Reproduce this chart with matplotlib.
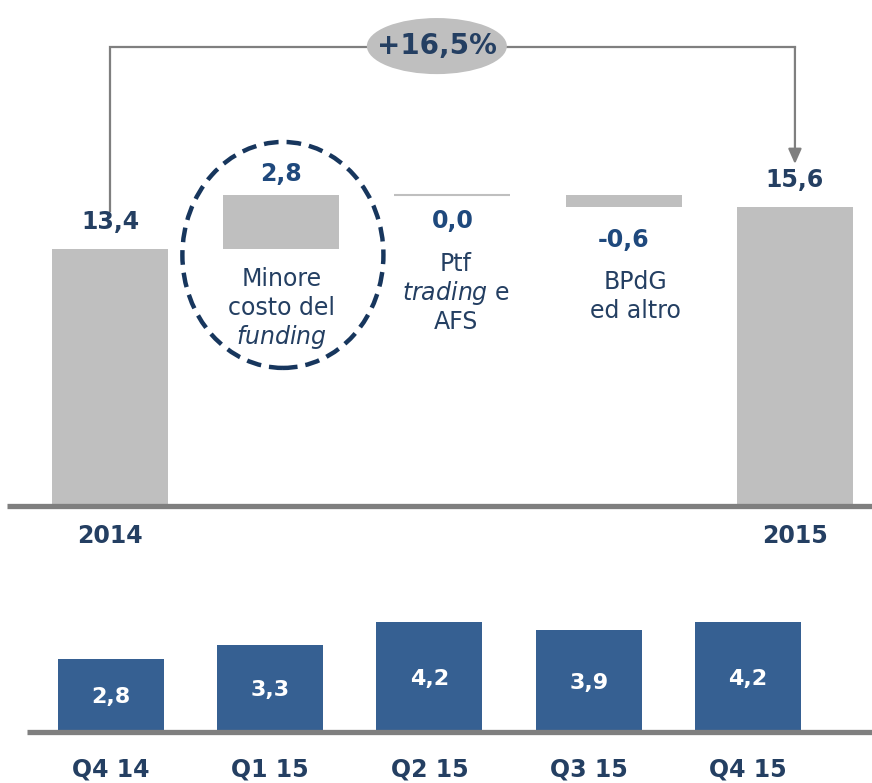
import matplotlib.pyplot as plt
from matplotlib.patches import Ellipse

plt.rcParams['font.family'] = ['DejaVu Sans']
plt.rcParams['mathtext.fontset'] = 'custom'
plt.rcParams['mathtext.rm'] = 'DejaVu Sans'
plt.rcParams['mathtext.it'] = 'DejaVu Sans:italic'

# waterfall 2014 -> 2015
wf_values = [13.4, 2.8, 0.0, -0.6, 15.6]
wf_text = ['13,4', '2,8', '0,0', '-0,6', '15,6']
wf_years = ['2014', '', '', '', '2015']
wf_desc = [[], ['Minore', 'costo del', r'$\mathit{funding}$'],
           ['Ptf', r'$\mathit{trading}$ e', 'AFS'], ['BPdG', 'ed altro'], []]
growth_text = '+16,5%'

# quarterly
quarters = ['Q4 14', 'Q1 15', 'Q2 15', 'Q3 15', 'Q4 15']
q_values = [2.8, 3.3, 4.2, 3.9, 4.2]
q_text = ['2,8', '3,3', '4,2', '3,9', '4,2']

DARK = '#243F62'
MID = '#1F497D'
GREY = '#BFBFBF'
LINE = '#7F7F7F'
BLUE = '#366092'

fig = plt.figure(figsize=(8.72, 7.83), dpi=100)
ax = fig.add_axes([0, 0.2848, 1, 0.7152])
ax2 = fig.add_axes([0, 0, 1, 0.2593])

# ---- top waterfall ----
n = len(wf_values)
bottoms, heights = [], []
cum = 0
for i, v in enumerate(wf_values):
    if i == 0 or i == n - 1:
        bottoms.append(0)
        heights.append(v)
        cum = v
    else:
        bottoms.append(min(cum, cum + v))
        heights.append(abs(v))
        cum += v

xs = list(range(n))
w = 0.677
for x, b, h in zip(xs, bottoms, heights):
    if h == 0:
        ax.hlines(b, x - w / 2, x + w / 2, color=GREY, lw=1.5)
    else:
        ax.bar(x, h, bottom=b, width=w, color=GREY, zorder=2)

ax.plot([-0.6, 4.5], [0, 0], color=LINE, lw=3.8, zorder=3, solid_capstyle='butt')

# value labels
for i, (x, b, h, v, t) in enumerate(zip(xs, bottoms, heights, wf_values, wf_text)):
    if i == 0 or i == n - 1:
        y, c = b + h + 1.4, DARK
    elif v > 0:
        y, c = b + h + 1.12, MID
    elif v == 0:
        y, c = b - 1.33, MID
    else:
        y, c = b - 1.72, MID
    ax.text(x, y, t, ha='center', va='center', fontsize=17, fontweight='bold', color=c)

# description labels
first_line = [0, 11.85, 12.63, 11.69, 0]
x_shift = [0, 0, 0.02, 0.07, 0]
for x, lines, y0, dx in zip(xs, wf_desc, first_line, x_shift):
    for k, line in enumerate(lines):
        ax.text(x + dx, y0 - 1.51 * k, line, ha='center', va='center',
                fontsize=17, color=DARK)

for x, yr in zip(xs, wf_years):
    if yr:
        ax.text(x, -1.54, yr, ha='center', va='center', fontsize=17,
                fontweight='bold', color=DARK)

# growth bracket
top_y = 23.93
ax.plot([0, 0, n - 1], [wf_values[0] + 2.0, top_y, top_y], color=LINE, lw=1.6,
        zorder=1, solid_joinstyle='miter')
ax.annotate('', xy=(n - 1, wf_values[-1] + 2.24), xytext=(n - 1, top_y),
            arrowprops=dict(arrowstyle='-|>,head_length=0.9,head_width=0.4',
                            color=LINE, lw=1.6, shrinkA=0, shrinkB=0))
ax.add_patch(Ellipse((1.909, 23.98), 0.8175, 2.92, facecolor=GREY,
                     edgecolor='none', zorder=4))
ax.text(1.909, 23.98, growth_text, ha='center', va='center', fontsize=20,
        fontweight='bold', color=DARK, zorder=5)

# dashed highlight circle
ax.add_patch(Ellipse((1.01, 13.1), 1.174, 11.77, facecolor='none', edgecolor='#17365D',
                     lw=3.2, linestyle=(0, (3.3, 1.8)), zorder=5))

ax.set_xlim(-0.642, 4.45)
ax.set_ylim(-2.79, 26.38)
ax.axis('off')

# ---- bottom quarterly bars ----
qx = list(range(len(quarters)))
ax2.bar(qx, q_values, width=0.666, color=BLUE, zorder=2)
ax2.plot([-0.527, 4.8], [0, 0], color=LINE, lw=3.8, zorder=3, solid_capstyle='butt')
for x, v, t in zip(qx, q_values, q_text):
    ax2.text(x, v * 0.48, t, ha='center', va='center', fontsize=16,
             fontweight='bold', color='white', zorder=4)
for x, q in zip(qx, quarters):
    ax2.text(x, -1.45, q, ha='center', va='center', fontsize=17,
             fontweight='bold', color=DARK)
ax2.set_xlim(-0.697, 4.779)
ax2.set_ylim(-1.95, 5.8)
ax2.axis('off')

fig.savefig('out.png', dpi=100)
